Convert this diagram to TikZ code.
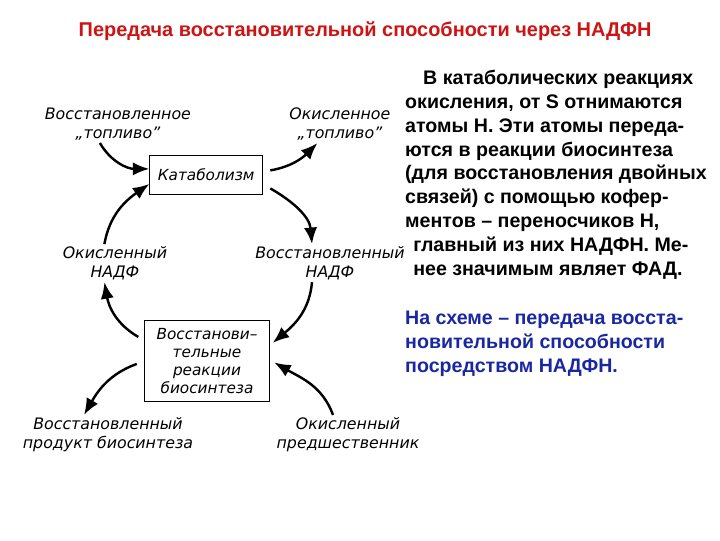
\documentclass[tikz,border=0pt]{standalone}
\usepackage{fontspec}
\setmainfont{Liberation Sans}
\newfontfamily\handfont{DejaVu Sans}
\usetikzlibrary{arrows.meta,positioning}
\definecolor{titlered}{RGB}{205,20,20}
\definecolor{noteblue}{RGB}{25,40,160}
\tikzset{
  proc/.style={draw,line width=0.9pt,font=\handfont\itshape\fontsize{14.5}{17}\selectfont,align=center,inner sep=3pt},
  lbl/.style={font=\handfont\itshape\fontsize{15}{18}\selectfont,align=center,inner sep=2pt},
  flow/.style={line width=2.3pt,-{Latex[length=5.5mm,width=4.4mm]}},
  note/.style={font=\bfseries\fontsize{18.6}{22.7}\selectfont,align=left,anchor=north west,inner sep=0pt}
}

\begin{document}
\begin{tikzpicture}
  \useasboundingbox (0,0) rectangle (24,-18);
  \node[font=\bfseries\fontsize{18.9}{21}\selectfont,text=titlered] (T) at (12.17,-1.05) {Передача восстановительной способности через НАДФН};

  \node[proc,minimum width=3.75cm,minimum height=1.3cm] (K) at (6.87,-5.83) {Катаболизм};
  \node[proc,minimum width=4.15cm,minimum height=2.7cm] (R) at (6.9,-12.03) {Восстанови–\\тельные\\реакции\\биосинтеза};

  \node[lbl] (F) at (3.93,-4.15) {Восстановленное\\„топливо”};
  \node[lbl] (FF) at (11.33,-4.15) {Окисленное\\„топливо”};
  \node[lbl] (N) at (3.83,-8.77) {Окисленный\\НАДФ};
  \node[lbl] (NN) at (11.0,-8.77) {Восстановленный\\НАДФ};
  \node[lbl] (P) at (3.6,-14.48) {Восстановленный\\продукт биосинтеза};
  \node[lbl] (PP) at (11.6,-14.48) {Окисленный\\предшественник};

  \draw[flow] ([xshift=-0.6cm]F.south) to[out=-60,in=180] ([yshift=0.2cm]K.west);
  \draw[flow] ([xshift=-0.35cm]N.north) to[out=80,in=215] ([yshift=-0.3cm]K.west);
  \draw[flow] ([yshift=0.15cm,xshift=0.25cm]K.east) to[out=10,in=225] ([xshift=-0.75cm]FF.south);
  \draw[flow] ([yshift=-0.45cm,xshift=0.25cm]K.east) to[out=-30,in=95] ([xshift=-0.6cm]NN.north);
  \draw[flow] ([xshift=-0.6cm]NN.south) to[out=-95,in=40] ([yshift=0.6cm,xshift=0.1cm]R.east);
  \draw[flow] ([yshift=0.8cm,xshift=-0.2cm]R.west) to[out=150,in=-80] ([xshift=-0.35cm]N.south);
  \draw[flow] ([yshift=-0.1cm,xshift=-0.25cm]R.west) to[out=200,in=60] ([xshift=-0.8cm]P.north);
  \draw[flow] ([xshift=-0.5cm]PP.north) to[out=110,in=-30] ([yshift=-0.05cm,xshift=0.15cm]R.east);

  \node[note] (S) at (13.5,-2.32) {\hspace*{0.6cm}В катаболических реакциях\\окисления, от S отнимаются\\атомы Н. Эти атомы переда-\\ются в реакции биосинтеза\\(для восстановления двойных\\связей) с помощью кофер-\\ментов – переносчиков Н,\\\hspace*{0.27cm}главный из них НАДФН. Ме-\\\hspace*{0.27cm}нее значимым являет ФАД.};
  \node[note,text=noteblue] (SS) at (13.5,-10.35) {На схеме – передача восста-\\новительной способности\\посредством НАДФН.};
\end{tikzpicture}
\end{document}
